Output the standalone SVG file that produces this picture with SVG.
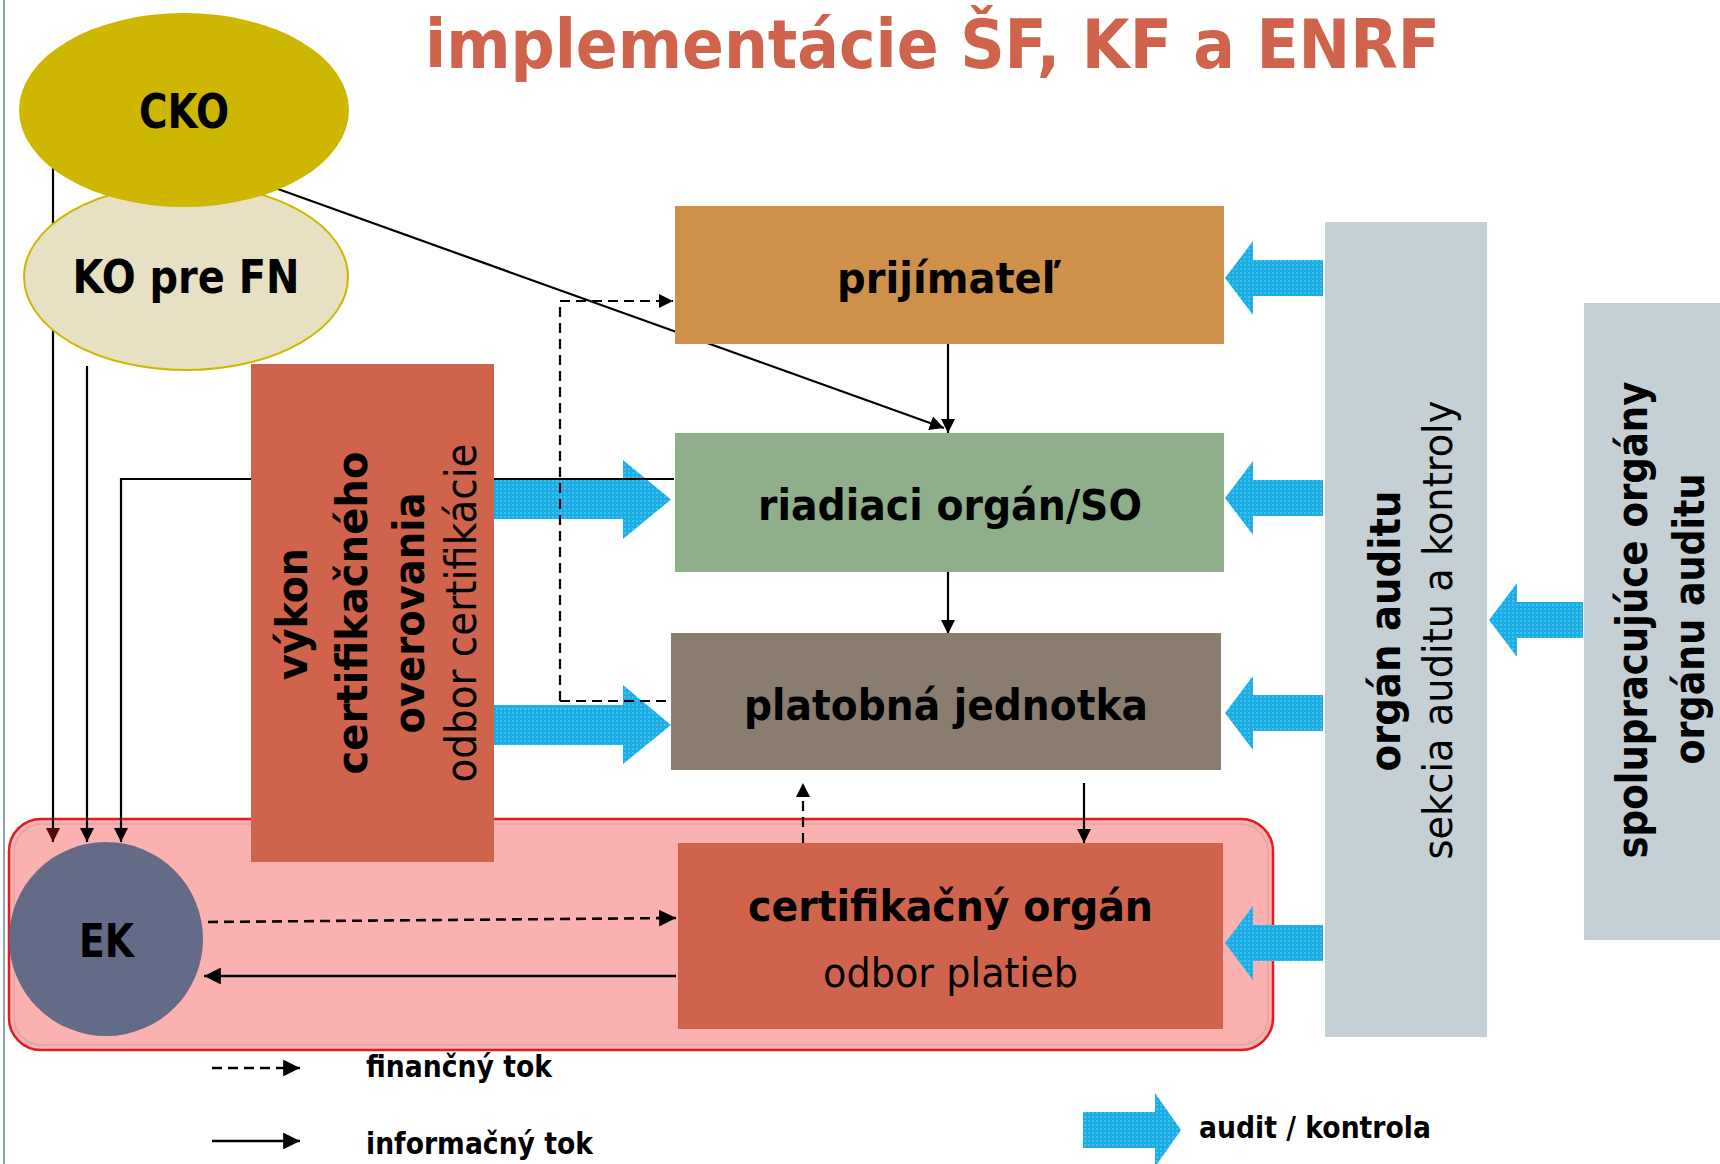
<svg xmlns="http://www.w3.org/2000/svg" width="1720" height="1164" viewBox="0 0 1720 1164">
<defs>
<style>
.t{font-family:"DejaVu Sans","Liberation Sans",sans-serif;fill:#000}
.b{font-weight:bold}
.ln{stroke:#000;stroke-width:2.2;fill:none}
.ds{stroke-dasharray:10 6}
.blue{fill:url(#bp)}
</style>
<pattern id="bp" width="4" height="4" patternUnits="userSpaceOnUse">
<rect width="4" height="4" fill="#1AAEE6"/>
<rect width="2" height="2" fill="#45BEEC"/>
</pattern>
<marker id="ah" viewBox="0 0 10 10" refX="10" refY="5" markerWidth="6.5" markerHeight="6.5" orient="auto">
<path d="M0,0 L10,5 L0,10 z" fill="#000"/>
</marker>
<marker id="ahr" viewBox="0 0 10 10" refX="10" refY="5" markerWidth="6.5" markerHeight="6.5" orient="auto">
<path d="M0,0 L10,5 L0,10 z" fill="#4a0808"/>
</marker>
</defs>
<rect width="1720" height="1164" fill="#fff"/>
<line x1="4" y1="0" x2="4" y2="1164" stroke="#8FA3A8" stroke-width="2"/>
<text class="t b" x="425" y="68" font-size="67" textLength="1015" lengthAdjust="spacingAndGlyphs" style="fill:#D0634B">implementácie ŠF, KF a ENRF</text>

<g id="container">
<rect x="9" y="819" width="1264" height="231" rx="32" fill="#FAB1B0" stroke="#E5191F" stroke-width="2.5"/>
<rect x="14" y="824" width="1254" height="221" rx="28" fill="none" stroke="#D9A6A6" stroke-width="1.5"/>
</g>

<g id="connectors">
<polygon class="blue" points="494,480 623,480 623,460 671,499.5 623,539 623,519 494,519"/>
<polygon class="blue" points="494,705 623,705 623,685 671,725 623,764 623,745 494,745"/>
<polygon class="blue" points="1323,260 1253,260 1253,241 1225,278 1253,315 1253,296 1323,296"/>
<polygon class="blue" points="1323,480 1253,480 1253,461 1225,498 1253,535 1253,516 1323,516"/>
<polygon class="blue" points="1323,695 1253,695 1253,676 1225,713 1253,750 1253,731 1323,731"/>
<polygon class="blue" points="1323,925 1253,925 1253,906 1225,943 1253,980 1253,961 1323,961"/>
<polygon class="blue" points="1583,602 1517,602 1517,583 1489,620 1517,657 1517,638 1583,638"/>
<line class="ln" x1="250" y1="179" x2="944" y2="428" marker-end="url(#ah)"/>
<line class="ln" x1="948" y1="344" x2="948" y2="433" marker-end="url(#ah)"/>
<line class="ln" x1="948" y1="572" x2="948" y2="634" marker-end="url(#ah)"/>
<line class="ln" x1="53" y1="168" x2="53" y2="842" marker-end="url(#ahr)"/>
<line class="ln" x1="87" y1="366" x2="87" y2="842" marker-end="url(#ah)"/>
<path class="ln" d="M674,479 H121 V842" marker-end="url(#ah)"/>
<path class="ln ds" d="M560,701 V301 H673" marker-end="url(#ah)"/>
<line class="ln ds" x1="560" y1="701" x2="671" y2="701"/>
<line class="ln ds" x1="803" y1="843" x2="803" y2="783" marker-end="url(#ah)"/>
<line class="ln" x1="1084" y1="783" x2="1084" y2="843" marker-end="url(#ah)"/>
<line class="ln ds" x1="208" y1="922" x2="676" y2="918" marker-end="url(#ah)" style="stroke-width:2.6"/>
<line class="ln" x1="676" y1="976" x2="204" y2="976" marker-end="url(#ah)" style="stroke-width:2.6"/>
</g>

<g id="ko-pre-fn">
<ellipse cx="186" cy="277" rx="162" ry="93" fill="#E8E0C3" stroke="#CDB800" stroke-width="2"/>
<text class="t b" x="186" y="293" font-size="46" text-anchor="middle" textLength="227" lengthAdjust="spacingAndGlyphs">KO pre FN</text>
</g>
<g id="cko">
<ellipse cx="184" cy="110" rx="165" ry="97" fill="#CDB700"/>
<text class="t b" x="184" y="128" font-size="48" text-anchor="middle" textLength="90" lengthAdjust="spacingAndGlyphs">CKO</text>
</g>
<g id="prijimatel">
<rect x="675" y="206" width="549" height="138" fill="#CF904A"/>
<text class="t b" x="837" y="293" font-size="43" textLength="224" lengthAdjust="spacingAndGlyphs">prijímateľ</text>
</g>
<g id="riadiaci-organ">
<rect x="675" y="433" width="549" height="139" fill="#8FAF8A"/>
<text class="t b" x="758" y="520" font-size="43" textLength="384" lengthAdjust="spacingAndGlyphs">riadiaci orgán/SO</text>
</g>
<g id="platobna-jednotka">
<rect x="671" y="633" width="550" height="137" fill="#8B7C70"/>
<text class="t b" x="744" y="720" font-size="43" textLength="404" lengthAdjust="spacingAndGlyphs">platobná jednotka</text>
</g>
<g id="vykon">
<rect x="251" y="364" width="243" height="498" fill="#D0634C"/>
<g class="t" font-size="42" text-anchor="middle">
<text class="b" transform="translate(307,614) rotate(-90)" textLength="132" lengthAdjust="spacingAndGlyphs">výkon</text>
<text class="b" transform="translate(367,613) rotate(-90)" textLength="323" lengthAdjust="spacingAndGlyphs">certifikačného</text>
<text class="b" transform="translate(424,613) rotate(-90)" textLength="241" lengthAdjust="spacingAndGlyphs">overovania</text>
<text transform="translate(476,613) rotate(-90)" textLength="339" lengthAdjust="spacingAndGlyphs">odbor certifikácie</text>
</g>
</g>
<g id="ek">
<circle cx="106" cy="939" r="97" fill="#636B86"/>
<text class="t b" x="79" y="957" font-size="47" textLength="55" lengthAdjust="spacingAndGlyphs">EK</text>
</g>
<g id="certifikacny-organ">
<rect x="678" y="843" width="545" height="186" fill="#D0634C"/>
<text class="t b" x="748" y="921" font-size="43" textLength="405" lengthAdjust="spacingAndGlyphs">certifikačný orgán</text>
<text class="t" x="823" y="987" font-size="41" textLength="255" lengthAdjust="spacingAndGlyphs">odbor platieb</text>
</g>
<g id="organ-auditu">
<rect x="1325" y="222" width="162" height="815" fill="#C5D0D6"/>
<text class="t b" font-size="42" text-anchor="middle" transform="translate(1400,631) rotate(-90)" textLength="281" lengthAdjust="spacingAndGlyphs">orgán auditu</text>
<text class="t" font-size="40" text-anchor="middle" transform="translate(1452,630) rotate(-90)" textLength="459" lengthAdjust="spacingAndGlyphs">sekcia auditu a kontroly</text>
</g>
<g id="spolupracujuce-organy">
<rect x="1584" y="303" width="136" height="637" fill="#C5D0D6"/>
<text class="t b" font-size="42" text-anchor="middle" transform="translate(1647,620) rotate(-90)" textLength="477" lengthAdjust="spacingAndGlyphs">spolupracujúce orgány</text>
<text class="t b" font-size="42" text-anchor="middle" transform="translate(1704,619) rotate(-90)" textLength="291" lengthAdjust="spacingAndGlyphs">orgánu auditu</text>
</g>

<g id="legend">
<line class="ln ds" x1="212" y1="1068" x2="300" y2="1068" marker-end="url(#ah)" style="stroke-width:2.6"/>
<text class="t b" x="366" y="1077" font-size="30" textLength="186" lengthAdjust="spacingAndGlyphs">finančný tok</text>
<line class="ln" x1="212" y1="1141" x2="300" y2="1141" marker-end="url(#ah)" style="stroke-width:2.6"/>
<text class="t b" x="366" y="1154" font-size="30" textLength="227" lengthAdjust="spacingAndGlyphs">informačný tok</text>
<polygon class="blue" points="1083,1112 1155,1112 1155,1093 1181,1130 1155,1167 1155,1148 1083,1148"/>
<text class="t b" x="1199" y="1138" font-size="30" textLength="232" lengthAdjust="spacingAndGlyphs">audit / kontrola</text>
</g>
</svg>
